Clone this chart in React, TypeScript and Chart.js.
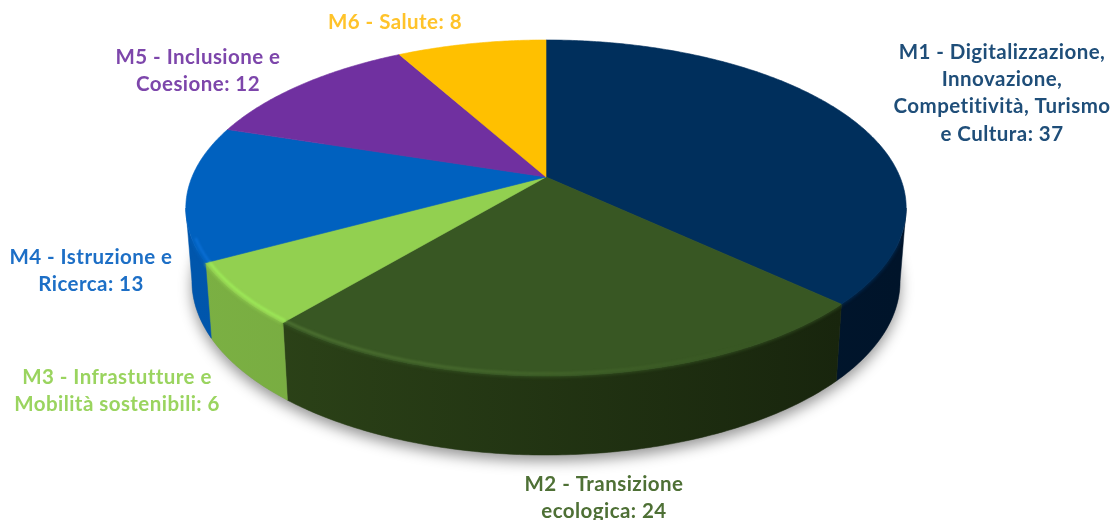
import React, { useEffect, useRef } from "react";
import { Chart, registerables } from "chart.js";

Chart.register(...registerables);

// Data
const categoryLines = [
  ["M1 - Digitalizzazione,", "Innovazione,", "Competitività, Turismo", "e Cultura"],
  ["M2 - Transizione", "ecologica"],
  ["M3 - Infrastutture e", "Mobilità sostenibili"],
  ["M4 - Istruzione e", "Ricerca"],
  ["M5 - Inclusione e", "Coesione"],
  ["M6 - Salute"],
];
const seriesValues = [37, 24, 6, 13, 12, 8];

// Styles
const topColors = ["#002F5C", "#385723", "#92D050", "#0061BF", "#7030A0", "#FFC000"];
const wallLeft = ["#001C38", "#2E4619", "#7BB043", "#0056AC", "#5E2888", "#D9A300"];
const wallRight = ["#00142A", "#16220C", "#6C9C3A", "#004A96", "#4E2072", "#B98A00"];
const rimColors = ["rgba(0,47,92,0)", "rgba(86,125,56,0.85)", "rgba(160,240,90,0.9)", "rgba(20,125,235,0.5)", "rgba(0,0,0,0)", "rgba(0,0,0,0)"];
const labelColors = ["#1F4E79", "#4E7035", "#9AD45F", "#1D6FC6", "#7D46AB", "#FFC32A"];

// Layout of the labels: centre x and the y of the first line's middle
const labelCentres = [1002, 604, 117, 91, 198, 395];
const labelTops = [52, 484, 377, 257, 57, 22];
const labelLineGap = 27.3;
const labelFont = "bold 20.5px Lato";
const labelSpacing = "0.45px";

// Perspective of the pie's disc
const SCALE_X = 2.0;
const SCALE_Y = 0.917;
const TILT = 0.1845;
const WALL_DEPTH = 72;
const WALL_EXTRA = 7;
const WALL_SHRINK = 0.983;
const RIM_MIN_SIN = 0.35;

type Pt = [number, number];

function makeProjector(cx: number, cy: number, R: number) {
  const top = (a: number, r = 1): Pt => {
    const s = Math.sin(a) * r;
    const w = 1 - TILT * s;
    return [cx + (R * SCALE_X * r * Math.cos(a)) / w, cy + (R * SCALE_Y * s) / w];
  };
  const bottom = (a: number): Pt => {
    const [x, y] = top(a);
    return [cx + (x - cx) * WALL_SHRINK, y + WALL_DEPTH + WALL_EXTRA * Math.sin(a)];
  };
  return { top, bottom };
}

function anglesBetween(start: number, end: number): number[] {
  const n = Math.max(4, Math.ceil((end - start) / 0.01));
  const out: number[] = [];
  for (let i = 0; i <= n; i++) out.push(start + ((end - start) * i) / n);
  return out;
}

const pie3dPlugin = {
  id: "pie3d",
  beforeDatasetDraw(chart: any, args: any) {
    const ctx: CanvasRenderingContext2D = chart.ctx;
    const arcs: any[] = args.meta.data;
    const { x: cx, y: cy, outerRadius: R } = arcs[0];
    const { top, bottom } = makeProjector(cx, cy, R);
    const minA = arcs[0].startAngle;
    const maxA = arcs[arcs.length - 1].endAngle;

    // the wall is only seen between the two silhouette angles of the disc
    const wallFrom = Math.asin(TILT);
    const wallTo = Math.PI - wallFrom;

    // soft shadow
    ctx.save();
    ctx.shadowColor = "rgba(0,0,0,0.42)";
    ctx.shadowBlur = 14;
    ctx.shadowOffsetY = 6;
    ctx.fillStyle = "#888";
    ctx.beginPath();
    anglesBetween(minA, maxA).forEach((a, i) => {
      const [x, y] = bottom(a);
      if (i === 0) ctx.moveTo(x, y);
      else ctx.lineTo(x, y);
    });
    ctx.closePath();
    ctx.fill();
    ctx.restore();

    // walls
    arcs.forEach((el, i) => {
      const from = Math.max(el.startAngle, wallFrom);
      const to = Math.min(el.endAngle, wallTo);
      if (to <= from) return;
      const angles = anglesBetween(from, to);
      const g = ctx.createLinearGradient(cx - R * SCALE_X, 0, cx + R * SCALE_X, 0);
      g.addColorStop(0, wallLeft[i]);
      g.addColorStop(1, wallRight[i]);
      ctx.beginPath();
      angles.forEach((a, k) => {
        const [x, y] = top(a);
        if (k === 0) ctx.moveTo(x, y);
        else ctx.lineTo(x, y);
      });
      [...angles].reverse().forEach((a) => {
        const [x, y] = bottom(a);
        ctx.lineTo(x, y);
      });
      ctx.closePath();
      ctx.fillStyle = g;
      ctx.strokeStyle = g;
      ctx.lineWidth = 0.5;
      ctx.fill();
      ctx.stroke();
    });

    // soft edge between the faces and the walls
    arcs.forEach((el, i) => {
      ctx.save();
      ctx.strokeStyle = topColors[i];
      ctx.globalAlpha = 0.7;
      ctx.lineWidth = 3;
      ctx.filter = "blur(1.5px)";
      ctx.beginPath();
      anglesBetween(el.startAngle, el.endAngle).forEach((a) => {
        if (Math.sin(a) < RIM_MIN_SIN) return;
        const [x, y] = top(a);
        ctx.lineTo(x, y);
      });
      ctx.stroke();
      ctx.restore();
    });

    // top faces
    arcs.forEach((el, i) => {
      ctx.beginPath();
      ctx.moveTo(cx, cy);
      anglesBetween(el.startAngle, el.endAngle).forEach((a) => {
        const [x, y] = top(a);
        ctx.lineTo(x, y);
      });
      ctx.closePath();
      ctx.fillStyle = topColors[i];
      ctx.strokeStyle = topColors[i];
      ctx.lineWidth = 0.6;
      ctx.fill();
      ctx.stroke();
    });

    // bevel highlight along the front rim, fading towards the right
    arcs.forEach((el, i) => {
      ctx.save();
      const g = ctx.createLinearGradient(cx - R * SCALE_X, 0, cx + R * SCALE_X * 0.6, 0);
      g.addColorStop(0, rimColors[i]);
      g.addColorStop(0.55, rimColors[i].replace(/[\d.]+\)$/, "0.45)"));
      g.addColorStop(1, rimColors[i].replace(/[\d.]+\)$/, "0)"));
      ctx.strokeStyle = g;
      ctx.lineWidth = 2.5;
      ctx.filter = "blur(1px)";
      ctx.beginPath();
      anglesBetween(el.startAngle, el.endAngle).forEach((a) => {
        if (Math.sin(a) < RIM_MIN_SIN) return;
        const [x, y] = top(a, 0.99);
        ctx.lineTo(x, y);
      });
      ctx.stroke();
      ctx.restore();
    });

    return false;
  },
  afterDraw(chart: any) {
    const ctx: any = chart.ctx;
    ctx.save();
    ctx.font = labelFont;
    ctx.letterSpacing = labelSpacing;
    ctx.textAlign = "center";
    ctx.textBaseline = "middle";
    ctx.filter = "blur(0.4px)";
    categoryLines.forEach((lines, i) => {
      ctx.fillStyle = labelColors[i];
      lines.forEach((line, k) => {
        const text = k === lines.length - 1 ? `${line}: ${seriesValues[i]}` : line;
        ctx.fillText(text, labelCentres[i], labelTops[i] + k * labelLineGap);
      });
    });
    ctx.restore();
  },
};

export default function App() {
  const ref = useRef<HTMLCanvasElement>(null);
  useEffect(() => {
    document.body.style.margin = "0";
    const chart = new Chart(ref.current!, {
      type: "pie",
      data: {
        labels: categoryLines.map((l) => l.join(" ")),
        datasets: [{ data: seriesValues, backgroundColor: topColors, borderWidth: 0 }],
      },
      options: {
        responsive: false,
        animation: false,
        events: [],
        layout: { padding: { right: 21, bottom: 166 } },
        plugins: { legend: { display: false }, tooltip: { enabled: false } },
      },
      plugins: [pie3dPlugin],
    } as any);
    return () => chart.destroy();
  }, []);
  return <canvas ref={ref} width={1113} height={520} style={{ display: "block" }} />;
}
